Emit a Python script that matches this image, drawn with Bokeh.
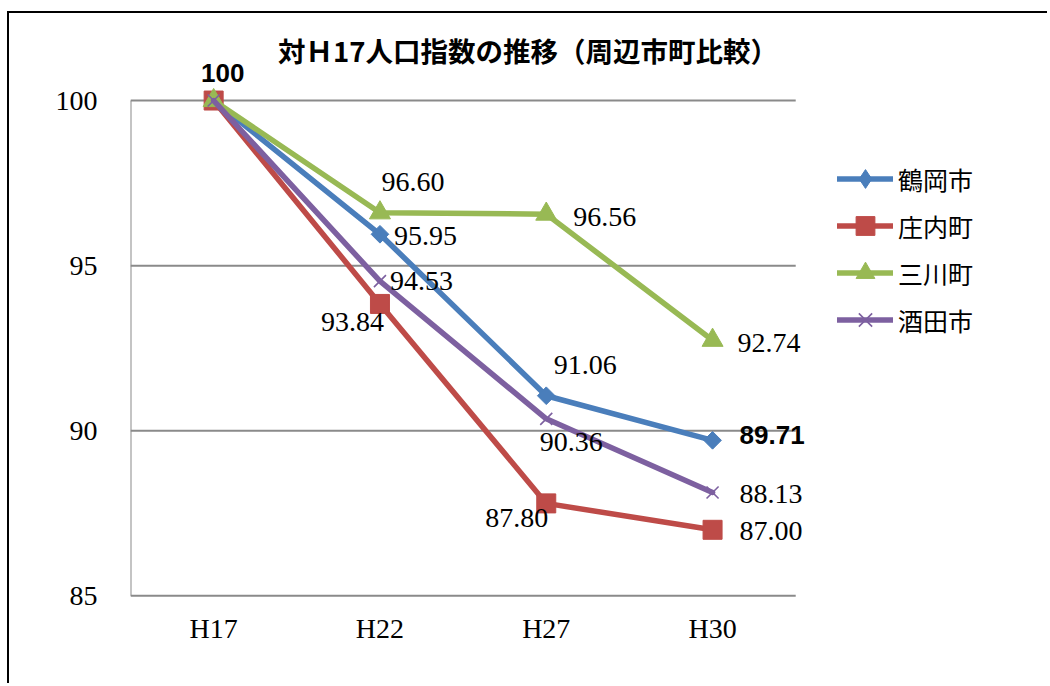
import math
from bokeh.plotting import figure
from bokeh.models import Range1d, FixedTicker, Legend, LegendItem, Label, ColumnDataSource
from bokeh.core.properties import value
from bokeh.embed import file_html
from bokeh.resources import INLINE

# ---------------- data ----------------
categories = ["H17", "H22", "H27", "H30"]
series_names = ["鶴岡市", "庄内町", "三川町", "酒田市"]
tsuruoka = [100, 95.95, 91.06, 89.71]
shonai = [100, 93.84, 87.80, 87.00]
mikawa = [100, 96.60, 96.56, 92.74]
sakata = [100, 94.53, 90.36, 88.13]
y_ticks = [85, 90, 95, 100]
title_text = "対Ｈ17人口指数の推移（周辺市町比較）"

series_values = [tsuruoka, shonai, mikawa, sakata]

# ---------------- styles / placement ----------------
colors = ["#4A7EBB", "#BE4B48", "#98B954", "#7D60A0"]
# (align, dx, dy, bold) per point, None = no label
placements = [
    [None, ("left", 14, 2, False), ("center", 39, -31, False), ("left", 27, -5, True)],
    [("center", 9, -27.5, True), ("right", 4, 18, False), ("right", 2, 15, False), ("left", 27, 1, False)],
    [None, ("center", 33, -31, False), ("left", 27, 2.5, False), ("left", 25, 3, False)],
    [None, ("left", 10, 0, False), ("center", 25, 23, False), ("left", 27, 2, False)],
]

W, H = 1040, 672
p = figure(width=W, height=H, output_backend="svg", toolbar_location=None,
           x_range=Range1d(-0.5, 5.026), y_range=Range1d(84.95, 102.636),
           min_border_left=121, min_border_right=0, min_border_top=0, min_border_bottom=88,
           styles={"border-left": "2px solid #000", "border-top": "2px solid #000",
                   "margin-top": "11px", "margin-left": "7px"})
p.title.visible = False
p.outline_line_color = None
p.xgrid.visible = False
p.ygrid.visible = False
p.background_fill_color = "white"
p.border_fill_color = "white"

xs = list(range(len(categories)))

# axes
p.yaxis.ticker = FixedTicker(ticks=y_ticks)
p.yaxis.axis_line_color = None
p.yaxis.major_tick_line_color = None
p.yaxis.minor_tick_line_color = None
p.yaxis.major_tick_out = 0
p.yaxis.major_tick_in = 0
p.yaxis.major_label_standoff = 33
p.yaxis.major_label_text_font = "Liberation Serif"
p.yaxis.major_label_text_font_size = "28px"
p.yaxis.major_label_text_color = "#000000"

p.xaxis.ticker = FixedTicker(ticks=xs)
p.xaxis.major_label_overrides = {i: c for i, c in enumerate(categories)}
p.xaxis.axis_line_color = None
p.xaxis.major_tick_line_color = None
p.xaxis.minor_tick_line_color = None
p.xaxis.major_tick_out = 0
p.xaxis.major_tick_in = 0
p.xaxis.major_label_standoff = 15
p.xaxis.major_label_text_font = "Liberation Serif"
p.xaxis.major_label_text_font_size = "28px"
p.xaxis.major_label_text_color = "#000000"

# gridlines and vertical axis line
x_lo, x_hi = -0.5, len(categories) - 0.5
p.multi_line(xs=[[x_lo, x_hi] for _ in y_ticks], ys=[[t, t] for t in y_ticks],
             line_color="#8a8a8a", line_width=2)
p.segment(x0=[x_lo], y0=[min(y_ticks)], x1=[x_lo], y1=[max(y_ticks)],
          line_color="#8a8a8a", line_width=2)

marker_specs = [
    dict(marker="square", size=12.5, angle=math.pi / 4),
    dict(marker="square", size=19, angle=0),
    dict(marker="triangle", size=21, angle=0),
    dict(marker="x", size=17, angle=0),
]

legend_items = []
for name, vals, col, ms in zip(series_names, series_values, colors, marker_specs):
    src = ColumnDataSource(dict(x=xs, y=vals))
    lr = p.line("x", "y", source=src, line_color=col, line_width=5.5,
                line_cap="round", line_join="round")
    if ms["marker"] == "x":
        sr = p.scatter("x", "y", source=src, marker="x", size=ms["size"],
                       line_color=col, line_width=1.6, fill_color=None)
    else:
        sr = p.scatter("x", "y", source=src, marker=ms["marker"], size=ms["size"],
                       angle=ms["angle"], fill_color=col, line_color=col, line_width=1)
    if ms["angle"] != 0:
        dummy = p.scatter(x=[float("nan")], y=[float("nan")], marker="diamond", size=10,
                          fill_color=col, line_color=col)
        legend_items.append(LegendItem(label=name, renderers=[lr, dummy]))
    else:
        legend_items.append(LegendItem(label=name, renderers=[lr, sr]))

# data labels
reg = dict(x=[], y=[], text=[], align=[], dx=[], dy=[])
bold = dict(x=[], y=[], text=[], align=[], dx=[], dy=[])
for vals, pl in zip(series_values, placements):
    for i, (v, spec) in enumerate(zip(vals, pl)):
        if spec is None:
            continue
        align, dx, dy, is_bold = spec
        d = bold if is_bold else reg
        d["x"].append(xs[i])
        d["y"].append(v)
        d["text"].append(str(int(v)) if i == 0 else f"{v:.2f}")
        d["align"].append(align)
        d["dx"].append(dx)
        d["dy"].append(dy)

p.text("x", "y", text="text", source=ColumnDataSource(reg), text_align="align",
       x_offset="dx", y_offset="dy", text_baseline="middle",
       text_font=value("Liberation Serif"), text_font_size="28px", text_color="#000000")
p.text("x", "y", text="text", source=ColumnDataSource(bold), text_align="align",
       x_offset="dx", y_offset="dy", text_baseline="middle",
       text_font=value("Liberation Sans"), text_font_size="26px", text_font_style="bold",
       text_color="#000000")

# legend
legend = Legend(items=legend_items, location=(707, 254), orientation="vertical",
                glyph_width=56, glyph_height=47, spacing=0, label_standoff=5,
                padding=0, margin=0, border_line_color=None, background_fill_alpha=0,
                label_text_font="Noto Sans CJK JP", label_text_font_size="25px",
                label_text_color="#000000")
p.add_layout(legend, "center")

# title
p.add_layout(Label(x=397.5, y=548, x_units="screen", y_units="screen", text=title_text,
                   text_align="center", text_baseline="middle",
                   text_font="Noto Sans CJK JP", text_font_size="27.5px",
                   text_font_style="bold", text_color="#000000"))

open("out.html", "w").write(file_html(p, INLINE))
